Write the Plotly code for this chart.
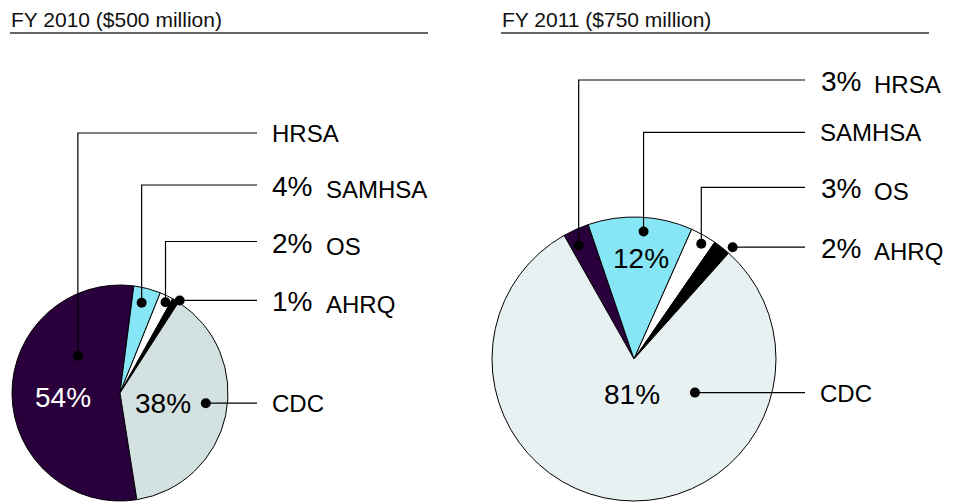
import math
import plotly.graph_objects as go

# ---------------- data ----------------
agencies = ["HRSA", "SAMHSA", "OS", "AHRQ", "CDC"]
fy2010_pct = [54, 4, 2, 1, 38]
fy2011_pct = [3, 12, 3, 2, 81]
fy2010_title = "FY 2010 ($500 million)"
fy2011_title = "FY 2011 ($750 million)"
fy2010_inside = ["HRSA", "CDC"]      # percentages printed inside the slice
fy2011_inside = ["SAMHSA", "CDC"]

# ---------------- style / layout ----------------
W, H = 962, 502
FONT = "Liberation Sans, Arial, sans-serif"
base_colors = {"HRSA": "#29003b", "SAMHSA": "#86e6f5", "OS": "#ffffff", "AHRQ": "#000000"}

panels = [
    dict(values=fy2010_pct, title=fy2010_title, inside=fy2010_inside,
         cx=120, cy=393, r=108, rotation=171, cdc_color="#d4e1e1",
         title_x=11, rule=(10, 428), line_end=257, pct_x=272, name_x=325.5, solo_x=272,
         # dot placement: (fraction through slice, fraction of radius)
         dots={"HRSA": (0.715, 0.52), "SAMHSA": (0.42, 0.86), "OS": (0.65, 0.94),
               "AHRQ": (1.0, 1.02), "CDC": (0.463, 0.80)},
         line_y={"HRSA": 133, "SAMHSA": 185, "OS": 241.5},
         inside_pos={"HRSA": (0.48, 0.53), "CDC": (0.51, 0.41)}),
    dict(values=fy2011_pct, title=fy2011_title, inside=fy2011_inside,
         cx=634, cy=359, r=142, rotation=-29.5, cdc_color="#e8f1f1",
         title_x=501.5, rule=(501, 929), line_end=805, pct_x=820.5, name_x=874, solo_x=820,
         dots={"HRSA": (0.33, 0.89), "SAMHSA": (0.54, 0.90), "OS": (0.59, 0.94),
               "AHRQ": (0.95, 1.05), "CDC": (0.267, 0.49)},
         line_y={"HRSA": 80, "SAMHSA": 132.3, "OS": 187.3},
         inside_pos={"SAMHSA": (0.53, 0.71), "CDC": (0.49, 0.25)}),
]


def slice_angles(vals, rotation):
    tot = float(sum(vals))
    a = rotation
    out = []
    for v in vals:
        span = v / tot * 360.0
        out.append((a, a + span))
        a += span
    return out


def polar(cx, cy, r, ang):
    t = math.radians(ang)
    return cx + r * math.sin(t), cy - r * math.cos(t)


fig = go.Figure()
shapes = []
annotations = []

for p in panels:
    cx, cy, r = p["cx"], p["cy"], p["r"]
    colors = [base_colors.get(a, p["cdc_color"]) for a in agencies]
    fig.add_trace(go.Pie(
        labels=agencies, values=p["values"], sort=False, direction="clockwise",
        rotation=p["rotation"], textinfo="none", hoverinfo="label+percent",
        marker=dict(colors=colors, line=dict(color="#000000", width=1)),
        domain=dict(x=[(cx - r) / W, (cx + r) / W], y=[1 - (cy + r) / H, 1 - (cy - r) / H]),
        showlegend=False,
    ))

    # title + rule
    annotations.append(dict(x=p["title_x"], y=19.5, xref="x", yref="y", text=p["title"],
                            showarrow=False, xanchor="left", yanchor="middle",
                            borderpad=0, borderwidth=0,
                            font=dict(family=FONT, size=21, color="#111111")))
    shapes.append(dict(type="line", xref="x", yref="y", x0=p["rule"][0], x1=p["rule"][1],
                       y0=33, y1=33, line=dict(color="#333333", width=1.6), layer="above"))

    angs = slice_angles(p["values"], p["rotation"])
    for name, val, (a0, a1), col in zip(agencies, p["values"], angs, colors):
        frac, rf = p["dots"][name]
        dx, dy = polar(cx, cy, r * rf, a0 + frac * (a1 - a0))
        ly = p["line_y"].get(name, dy)
        if ly != dy:
            path = f"M {dx} {dy} L {dx} {ly} L {p['line_end']} {ly}"
        else:
            path = f"M {dx} {dy} L {p['line_end']} {ly}"
        shapes.append(dict(type="path", xref="x", yref="y", path=path,
                           line=dict(color="#000000", width=1.2), layer="above"))
        shapes.append(dict(type="circle", xref="x", yref="y", x0=dx - 5, x1=dx + 5,
                           y0=dy - 5, y1=dy + 5, fillcolor="#000000",
                           line=dict(color="#000000", width=0), layer="above"))
        pct_text = f"{val}%"
        if name in p["inside"]:
            f2, rf2 = p["inside_pos"][name]
            tx, ty = polar(cx, cy, r * rf2, a0 + f2 * (a1 - a0))
            tcol = "#ffffff" if col == base_colors["HRSA"] else "#000000"
            annotations.append(dict(x=tx, y=ty, xref="x", yref="y", text=pct_text,
                                    showarrow=False, xanchor="center", yanchor="middle",
                                    borderpad=0, borderwidth=0,
                                    font=dict(family=FONT, size=28, color=tcol)))
            annotations.append(dict(x=p["solo_x"], y=ly + 0.5, xref="x", yref="y", text=name,
                                    showarrow=False, xanchor="left", yanchor="middle",
                                    borderpad=0, borderwidth=0,
                                    font=dict(family=FONT, size=24, color="#000000")))
        else:
            annotations.append(dict(x=p["pct_x"], y=ly + 1.5, xref="x", yref="y", text=pct_text,
                                    showarrow=False, xanchor="left", yanchor="middle",
                                    borderpad=0, borderwidth=0,
                                    font=dict(family=FONT, size=28, color="#000000")))
            annotations.append(dict(x=p["name_x"], y=ly + 4.5, xref="x", yref="y", text=name,
                                    showarrow=False, xanchor="left", yanchor="middle",
                                    borderpad=0, borderwidth=0,
                                    font=dict(family=FONT, size=24, color="#000000")))

fig.update_layout(
    width=W, height=H,
    margin=dict(l=0, r=0, t=0, b=0),
    paper_bgcolor="#ffffff", plot_bgcolor="rgba(0,0,0,0)",
    xaxis=dict(range=[0, W], visible=False, fixedrange=True, domain=[0, 1]),
    yaxis=dict(range=[H, 0], visible=False, fixedrange=True, domain=[0, 1]),
    shapes=shapes, annotations=annotations,
    font=dict(family=FONT),
)

fig.write_html("out.html", config={"displayModeBar": False},
               post_script="document.body.style.margin='0';document.body.style.overflow='hidden';")
